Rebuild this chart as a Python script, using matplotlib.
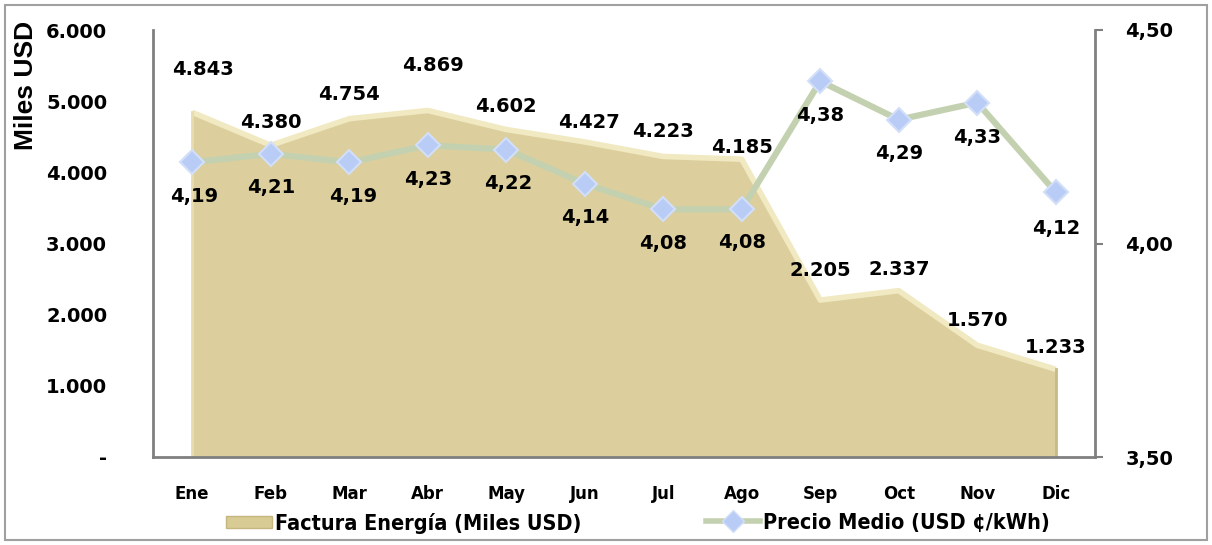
import numpy as np
import matplotlib
matplotlib.use('Agg')
import matplotlib.pyplot as plt
from matplotlib import font_manager
from matplotlib.ticker import FuncFormatter, FixedLocator
from matplotlib.lines import Line2D
from matplotlib.patches import Patch, Rectangle

# ---- data ----
months = ['Ene', 'Feb', 'Mar', 'Abr', 'May', 'Jun', 'Jul', 'Ago', 'Sep', 'Oct', 'Nov', 'Dic']
factura = [4843, 4380, 4754, 4869, 4602, 4427, 4223, 4185, 2205, 2337, 1570, 1233]
precio = [4.19, 4.21, 4.19, 4.23, 4.22, 4.14, 4.08, 4.08, 4.38, 4.29, 4.33, 4.12]
left_ticks = [0, 1000, 2000, 3000, 4000, 5000, 6000]
right_ticks = [3.50, 4.00, 4.50]
series_names = ['Factura Energía (Miles USD)', 'Precio Medio (USD ¢/kWh)']
ylabel_left = 'Miles USD'

# label offsets in pixels (dx, dy)
fact_label_off = [(11, 43), (0, 23), (0, 24), (5, 45), (0, 23), (4, 19),
                  (0, 25), (0, 12), (0, 30), (0, 21), (0, 25), (0, 22)]
precio_label_off = [(2, -34), (0, -34), (4, -34), (0, -34), (2, -34), (0, -34),
                    (0, -34), (0, -33), (0, -34), (0, -34), (0, -35), (0, -36)]

names = {f.name for f in font_manager.fontManager.ttflist}
if 'Liberation Sans Narrow' in names:
    leg_prop = {'family': 'Liberation Sans Narrow', 'weight': 'bold', 'size': 17}
else:
    leg_prop = {'family': 'DejaVu Sans', 'stretch': 'condensed', 'weight': 'bold', 'size': 15.5}

GRAY = '#808080'
fig = plt.figure(figsize=(12.12, 5.45), dpi=100)
fig.patches.append(Rectangle((5 / 1212, 5 / 545), 1202 / 1212, 535 / 545,
                             transform=fig.transFigure, fill=False,
                             edgecolor='#A0A0A0', lw=1.5))

ax = fig.add_axes([153 / 1212, 1 - 457 / 545, (1095 - 153) / 1212, (457 - 30) / 545])
x = np.arange(len(months)) + 0.5

ax.fill_between(x, factura, color='#DCCF9D', zorder=1, lw=0)
ax.plot(x, factura, color='#F1E9C2', lw=4, zorder=2, solid_capstyle='butt')
ax.plot([x[-1], x[-1]], [0, factura[-1]], color='#C8BA86', lw=2, zorder=2)
ax.plot([x[0], x[0]], [0, factura[0]], color='#E8DDB0', lw=2, zorder=2)

ax.set_xlim(0, 12)
ax.set_ylim(0, 6000)
ax.yaxis.set_major_locator(FixedLocator(left_ticks))
ax.yaxis.set_major_formatter(FuncFormatter(
    lambda v, p: '-' if v == 0 else f'{int(v):,}'.replace(',', '.')))
ax.set_xticks(x)
ax.set_xticklabels(months)

for s in ['top', 'right']:
    ax.spines[s].set_visible(False)
for s in ['left', 'bottom']:
    ax.spines[s].set_color(GRAY)
    ax.spines[s].set_linewidth(2)

ax.tick_params(axis='y', length=0, pad=33, labelsize=14)
ax.tick_params(axis='x', length=0, pad=20, labelsize=12)
for t in ax.get_yticklabels():
    t.set_fontweight('bold')
for t in ax.get_xticklabels():
    t.set_fontweight('bold')

ax.set_ylabel(ylabel_left, fontsize=19, fontweight='bold', family='Liberation Sans')
ax.yaxis.set_label_coords(-115 / 942, 1 - 55 / 427)

ax2 = ax.twinx()
ax2.set_ylim(3.5, 4.5)
ax2.yaxis.set_major_locator(FixedLocator(right_ticks))
ax2.yaxis.set_major_formatter(FuncFormatter(lambda v, p: f'{v:.2f}'.replace('.', ',')))
for s in ['top', 'left', 'bottom']:
    ax2.spines[s].set_visible(False)
ax2.spines['right'].set_color(GRAY)
ax2.spines['right'].set_linewidth(2)
ax2.tick_params(axis='y', length=6, width=1.5, color=GRAY, pad=16, labelsize=14)
for t in ax2.get_yticklabels():
    t.set_fontweight('bold')

ax2.plot(x, precio, color='#C3D1B0', lw=4.5, zorder=3)
ax2.plot(x, precio, ls='none', marker='D', ms=12.5, mfc='#B8CCF5', mec='#D3DFF9',
         mew=1.5, zorder=4)

for i, v in enumerate(factura):
    dx, dy = fact_label_off[i]
    ax2.annotate(f'{v:,}'.replace(',', '.'), (x[i], v), xycoords=ax.transData,
                 xytext=(dx, dy), textcoords='offset pixels', ha='center', va='center',
                 fontsize=14, fontweight='bold', zorder=5)
for i, v in enumerate(precio):
    dx, dy = precio_label_off[i]
    ax2.annotate(f'{v:.2f}'.replace('.', ','), (x[i], v), xytext=(dx, dy),
                 textcoords='offset pixels', ha='center', va='center',
                 fontsize=14, fontweight='bold', zorder=5)

fs_px = leg_prop['size'] / 0.72
h1 = Patch(facecolor='#D8CB93', edgecolor='#C5B680')
h2 = Line2D([], [], color='#C3D1B0', lw=4, marker='D', ms=11,
            mfc='#B8CCF5', mec='#D3DFF9')
leg1 = fig.legend([h1], [series_names[0]], loc='center left',
                  bbox_to_anchor=(226 / 1212, 1 - 523 / 545), frameon=False,
                  handlelength=46 / fs_px, handleheight=0.5, handletextpad=3 / fs_px,
                  borderpad=0, borderaxespad=0, prop=leg_prop)
leg2 = fig.legend([h2], [series_names[1]], loc='center left',
                  bbox_to_anchor=(706 / 1212, 1 - 523 / 545), frameon=False,
                  handlelength=54 / fs_px, handletextpad=3 / fs_px,
                  borderpad=0, borderaxespad=0, prop=leg_prop)

fig.savefig('out.png', dpi=100)
